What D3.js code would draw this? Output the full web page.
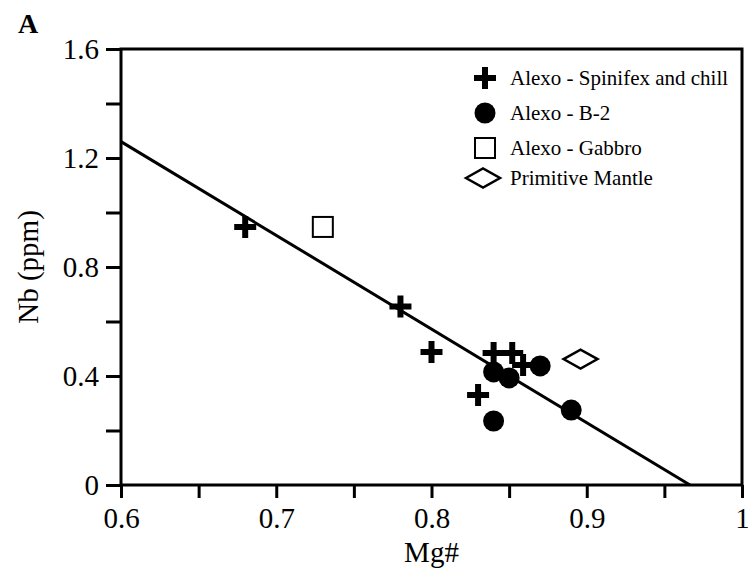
<!DOCTYPE html>
<html>
<head>
<meta charset="utf-8">
<script src="https://cdn.jsdelivr.net/npm/d3@7"></script>
<style>
  body { margin: 0; background: #fff; }
  svg text { font-family: "Liberation Serif", "Times New Roman", serif; fill: #000; }
</style>
</head>
<body>
<div id="chart"></div>
<script>
// Data
const spinifexMg = [0.68, 0.78, 0.80, 0.84, 0.852, 0.859, 0.83]
const spinifexNb = [0.947, 0.655, 0.488, 0.484, 0.484, 0.44, 0.33]
const b2Mg = [0.84, 0.85, 0.87, 0.89, 0.84]
const b2Nb = [0.415, 0.393, 0.437, 0.275, 0.235]
const gabbroMg = [0.73]
const gabbroNb = [0.947]
const mantleMg = [0.896]
const mantleNb = [0.462]
const fitMg = [0.6, 0.9665]
const fitNb = [1.26, 0]
const xTicks = [0.6, 0.7, 0.8, 0.9, 1]
const xMinorTicks = [0.65, 0.75, 0.85, 0.95]
const yTicks = [0, 0.4, 0.8, 1.2, 1.6]
const yMinorTicks = [0.2, 0.6, 1.0, 1.4]
const legendLabels = ["Alexo - Spinifex and chill", "Alexo - B-2", "Alexo - Gabbro", "Primitive Mantle"]

const zip = (a, b) => a.map((v, i) => ({ mg: v, nb: b[i] }))

// Margin convention
const margin = { top: 49, right: 6, bottom: 86, left: 121 }
const width = 748 - margin.left - margin.right
const height = 571 - margin.top - margin.bottom

const root = d3.select("#chart").append("svg")
    .attr("width", 748)
    .attr("height", 571)
const svg = root.append("g")
    .attr("transform", "translate(" + margin.left + "," + margin.top + ")")

const x = d3.scaleLinear().domain([0.6, 1]).range([0, width])
const y = d3.scaleLinear().domain([0, 1.6]).range([height, 0])

// Axes
const xAxis = svg.append("g")
    .attr("transform", "translate(0," + height + ")")
    .call(d3.axisBottom(x).tickValues(xTicks).tickSize(13).tickPadding(9).tickFormat(d3.format("")))
svg.append("g")
    .attr("transform", "translate(0," + height + ")")
    .call(d3.axisBottom(x).tickValues(xMinorTicks).tickSize(13).tickFormat(""))
const yAxis = svg.append("g")
    .call(d3.axisLeft(y).tickValues(yTicks).tickSize(15).tickPadding(7).tickFormat(d3.format("")))
svg.append("g")
    .call(d3.axisLeft(y).tickValues(yMinorTicks).tickSize(15).tickFormat(""))

svg.selectAll(".domain").remove()
svg.selectAll(".tick line").attr("stroke", "#000").attr("stroke-width", 3)
svg.selectAll(".tick text").style("font-size", "29px")

// frame
svg.append("rect")
    .attr("x", 0).attr("y", 0)
    .attr("width", width).attr("height", height)
    .attr("fill", "none")
    .attr("stroke", "#000")
    .attr("stroke-width", 3)

// Regression line
svg.append("path")
    .datum(zip(fitMg, fitNb))
    .attr("fill", "none")
    .attr("stroke", "#000")
    .attr("stroke-width", 3)
    .attr("d", d3.line().x(d => x(d.mg)).y(d => y(d.nb)))

// marker helpers
const plusPath = "M-11,0H11M0,-11V11"
const diamondPath = "M-17,0L0,-9.5L17,0L0,9.5Z"

function drawPlus(sel) {
  sel.append("path").attr("d", plusPath)
    .attr("stroke", "#000").attr("stroke-width", 6).attr("fill", "none")
}
function drawCircle(sel) {
  sel.append("circle").attr("r", 10.5).attr("fill", "#000")
}
function drawSquare(sel) {
  sel.append("rect").attr("x", -10).attr("y", -10).attr("width", 20).attr("height", 20)
    .attr("fill", "#fff").attr("stroke", "#000").attr("stroke-width", 2)
}
function drawDiamond(sel) {
  sel.append("path").attr("d", diamondPath)
    .attr("fill", "#fff").attr("stroke", "#000").attr("stroke-width", 2.5)
}

const series = [
  { data: zip(spinifexMg, spinifexNb), draw: drawPlus },
  { data: zip(b2Mg, b2Nb), draw: drawCircle },
  { data: zip(gabbroMg, gabbroNb), draw: drawSquare },
  { data: zip(mantleMg, mantleNb), draw: drawDiamond }
]

series.forEach(s => {
  svg.append("g").selectAll("g")
    .data(s.data)
    .join("g")
    .attr("transform", d => "translate(" + x(d.mg) + "," + y(d.nb) + ")")
    .call(s.draw)
})

// Legend
const legend = root.append("g").attr("transform", "translate(485,78)")
const legendY = [0, 35, 70, 100]
legendLabels.forEach((label, i) => {
  const item = legend.append("g").attr("transform", "translate(0," + legendY[i] + ")")
  const mark = item.append("g").attr("transform", i === 3 ? "translate(-2,0)" : null)
  series[i].draw(mark)
  item.append("text")
    .attr("x", 25)
    .attr("dy", "0.34em")
    .style("font-size", "21px")
    .text(label)
})

// Axis titles
root.append("text")
    .attr("x", margin.left + width / 2)
    .attr("y", 562)
    .attr("text-anchor", "middle")
    .style("font-size", "29px")
    .text("Mg#")

root.append("text")
    .attr("transform", "translate(38," + (margin.top + height / 2) + ") rotate(-90)")
    .attr("text-anchor", "middle")
    .style("font-size", "29px")
    .text("Nb (ppm)")

root.append("text")
    .attr("x", 18)
    .attr("y", 33)
    .style("font-size", "28px")
    .style("font-weight", "bold")
    .text("A")
</script>
</body>
</html>
